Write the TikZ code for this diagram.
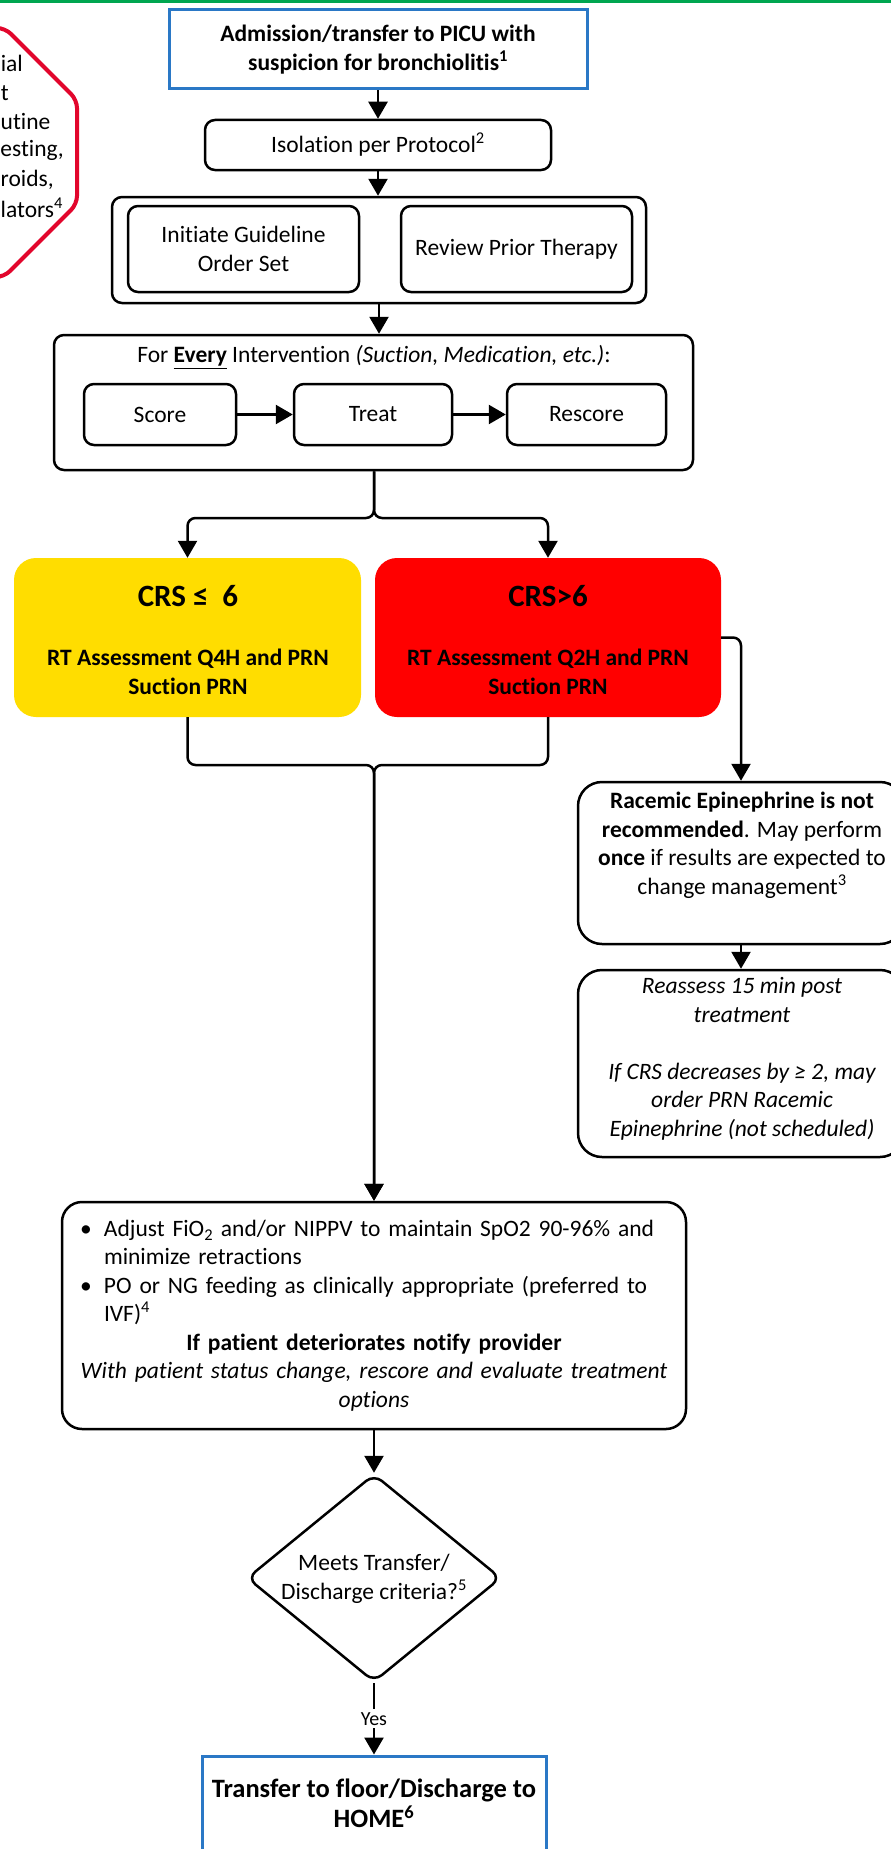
\documentclass[tikz,border=0pt]{standalone}
\usepackage{fontspec}
\setmainfont{Carlito}[Ligatures=CommonOff]
\usetikzlibrary{arrows.meta,shapes.geometric}
\definecolor{topgreen}{HTML}{00A650}
\definecolor{octred}{HTML}{E2062C}
\definecolor{boxblue}{HTML}{2A78C6}
\definecolor{crsyellow}{HTML}{FFDD00}
\definecolor{crsred}{HTML}{FF0000}
\begin{document}
\begin{tikzpicture}[x=1pt,y=-1pt,
  every node/.style={font=\fontsize{23.5}{28.5}\selectfont, inner sep=0pt},
  bt/.style={font=\fontsize{23.5}{28.5}\selectfont\bfseries},
  it/.style={font=\fontsize{23.5}{28.5}\selectfont\itshape},
  rbox/.style={draw, line width=2.5pt, rounded corners=10pt, align=center},
  bigbox/.style={draw, line width=2.5pt, rounded corners=24pt, align=center},
  bluebox/.style={draw=boxblue, line width=3pt, align=center},
  crsbox/.style={rounded corners=22pt},
  arr/.style={line width=2.5pt, -{Triangle[width=19pt,length=17pt]}},
  frage/.style={anchor=east},
  fragw/.style={anchor=west}
]
\useasboundingbox (0,0) rectangle (891,1849);
\clip (0,0) rectangle (891,1849);
\fill[white] (0,0) rectangle (891,1849);
\fill[topgreen] (0,0) rectangle (891,3.5);

% cut-off octagon on the left
\draw[octred, line width=4pt, rounded corners=8pt]
  (-300,28) -- (5,28) -- (77,100) -- (77,204) -- (4,277) -- (-300,277);
\node[frage] (o1) at (23,63) {ial};
\node[frage] (o2) at (9,93) {t};
\node[fragw] (o3) at (0.5,122) {utine};
\node[frage] (o4) at (64,150) {esting,};
\node[fragw] (o5) at (0.5,180) {roids,};
\node[fragw] (o6) at (0.5,208) {lators\textsuperscript{4}};

% top
\node[bluebox, bt, minimum width=418pt, minimum height=79pt] (top) at (378,49.5)
  {Admission/transfer to PICU with\\suspicion for bronchiolitis\textsuperscript{1}};
\node[rbox, minimum width=346pt, minimum height=50pt] (iso) at (378,145)
  {Isolation per Protocol\textsuperscript{2}};
\node[rbox, minimum width=534pt, minimum height=106pt] (cont) at (379,250) {};
\node[rbox, minimum width=231pt, minimum height=86pt] (init) at (243.5,249)
  {Initiate Guideline\\Order Set};
\node[rbox, minimum width=231pt, minimum height=86pt] (rev) at (516.5,249)
  {Review Prior Therapy};

% every intervention
\node[rbox, minimum width=639pt, minimum height=135pt] (every) at (373.5,402.5) {};
\node (evtitle) at (374,357)
  {For \textbf{\underline{Every}} Intervention \textit{(Suction, Medication, etc.)}:};
\node[rbox, minimum width=152pt, minimum height=61pt] (score) at (160,414.5) {Score};
\node[rbox, minimum width=158pt, minimum height=61pt] (treat) at (373,414.5) {Treat};
\node[rbox, minimum width=159pt, minimum height=61pt] (rescore) at (586.5,414.5) {Rescore};
\draw[arr] (score) -- (treat);
\draw[arr] (treat) -- (rescore);

% CRS boxes
\node[crsbox, fill=crsyellow, minimum width=347pt, minimum height=159pt] (yel) at (187.5,637.5) {};
\node[crsbox, fill=crsred, minimum width=346pt, minimum height=159pt] (red) at (548,637.5) {};
\node[font=\fontsize{31}{36}\selectfont\bfseries] (crsA) at (188,596) {CRS ≤\ \ 6};
\node[bt, align=center] (rtA) at (188,672) {RT Assessment Q4H and PRN\\Suction PRN};
\node[font=\fontsize{31}{36}\selectfont\bfseries] (crsB) at (548,596) {CRS>6};
\node[bt, align=center] (rtB) at (548,672) {RT Assessment Q2H and PRN\\Suction PRN};

% racemic epinephrine
\node[bigbox, minimum width=326pt, minimum height=162pt] (rac) at (741,863) {};
\node[align=center] (ractext) at (742,845.5)
  {\textbf{Racemic Epinephrine is not}\\\textbf{recommended}. May perform\\\textbf{once} if results are expected to\\change management\textsuperscript{3}};
\node[bigbox, minimum width=326pt, minimum height=187pt] (reas) at (741,1063.5) {};
\node[it, align=center] (reastext) at (742,1059)
  {Reassess 15 min post\\treatment\\\mbox{}\\If CRS decreases by ≥ 2, may\\order PRN Racemic\\Epinephrine (not scheduled)};

% ongoing care
\node[draw, line width=2.5pt, rounded corners=20pt, minimum height=227pt,
      text width=600pt, inner xsep=12pt, align=left] (care) at (374,1315.5)
  {\makebox[30pt][l]{\hspace{6pt}\textbullet}Adjust FiO\textsubscript{2} and/or NIPPV to maintain SpO2 90-96\% and\\
   \hspace*{30pt}minimize retractions\\
   \makebox[30pt][l]{\hspace{6pt}\textbullet}PO or NG feeding as clinically appropriate (preferred to\\
   \hspace*{30pt}IVF)\textsuperscript{4}\par
   \centering\textbf{If patient deteriorates notify provider}\\
   \textit{With patient status change, rescore and evaluate treatment}\\
   \textit{options}\par};

% decision
\node[draw, diamond, line width=2.5pt, rounded corners=10pt,
      minimum width=254pt, minimum height=208pt] (dia) at (374,1578) {};
\node[align=center] (diatext) at (374,1579)
  {Meets Transfer/\\Discharge criteria?\textsuperscript{5}};
\node[bluebox, minimum width=344pt, minimum height=104pt] (final) at (374,1808) {};
\node[align=center, font=\fontsize{26.5}{30}\selectfont\bfseries] (finaltext) at (374,1803)
  {Transfer to floor/Discharge to\\HOME\textsuperscript{6}};

% connectors
\draw[arr] (top.south) -- (iso.north);
\draw[arr] (iso.south) -- (iso.south |- cont.north);
\draw[arr] (cont.south) -- (cont.south |- every.north);
\coordinate (j1) at (374,518);
\draw[arr, rounded corners=8pt] (every.south -| j1) -- (j1) -- (j1 -| yel.north) -- (yel.north);
\draw[arr, rounded corners=8pt] (every.south -| j1) -- (j1) -- (j1 -| red.north) -- (red.north);
\draw[arr, rounded corners=8pt] (red.east) -- (red.east -| rac.north) -- (rac.north);
\draw[arr] (rac.south) -- (reas.north);
\coordinate (j2) at (374,765);
\draw[arr, rounded corners=8pt] (yel.south) -- (yel.south |- j2) -- (j2) -- (j2 |- care.north);
\draw[arr, rounded corners=8pt] (red.south) -- (red.south |- j2) -- (j2) -- (j2 |- care.north);
\draw[arr] (care.south -| dia.north) -- (dia.north);
\draw[arr] (dia.south) -- node[fill=white, inner sep=3pt, font=\fontsize{20}{24}\selectfont] (yes) {Yes} (final.north);
\end{tikzpicture}
\end{document}
